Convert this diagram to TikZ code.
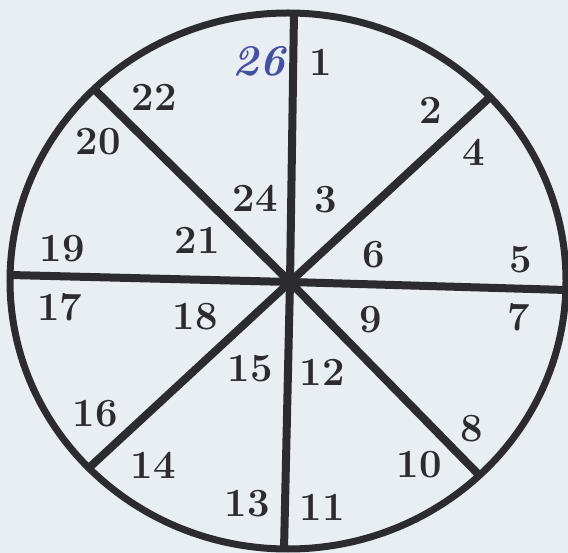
\documentclass[tikz,border=0pt]{standalone}
\usepackage{fontspec}
\usetikzlibrary{calc}
\definecolor{paper}{RGB}{232,238,242}
\definecolor{ink}{RGB}{44,44,48}
\definecolor{pen}{RGB}{68,80,160}
\tikzset{
  spoke/.style={draw=ink,line width=8pt},
  rim/.style={draw=ink,line width=7pt},
  num/.style={text=ink,font=\fontsize{40}{40}\selectfont\bfseries,inner sep=0pt},
  hand/.style={text=pen,font=\fontsize{44}{44}\selectfont\bfseries\itshape,inner sep=0pt}
}
\begin{document}
\begin{tikzpicture}[x=1pt,y=-1pt]
\fill[paper] (0,0) rectangle (568,553);
\useasboundingbox (0,0) rectangle (568,553);
\coordinate (c) at (290,282);
\coordinate (top) at (294,12);
\coordinate (bot) at (284,550);
\coordinate (lft) at (10,275);
\coordinate (rgt) at (566,290);
\coordinate (ne) at (489,98);
\coordinate (nw) at (95,90);
\coordinate (sw) at (91,466);
\coordinate (se) at (481,477);
\begin{scope}
\clip (288,281) ellipse [x radius=278pt, y radius=268pt];
\foreach \p in {top,bot,lft,rgt,ne,nw,sw,se} \draw[spoke] (c) -- ($(c)!1.08!(\p)$);
\end{scope}
\draw[rim] (288,281) ellipse [x radius=278pt, y radius=268pt];
\fill[ink] (c) circle (9pt);
\node[num] (n1) at (321,62) {1};
\node[num] (n2) at (431,110) {2};
\node[num] (n3) at (326,200) {3};
\node[num] (n4) at (474,152) {4};
\node[num] (n5) at (521,260) {5};
\node[num] (n6) at (374,255) {6};
\node[num] (n7) at (519,317) {7};
\node[num] (n8) at (472,429) {8};
\node[num] (n9) at (371,320) {9};
\node[num] (n10) at (419,465) {10};
\node[num] (n11) at (322,507) {11};
\node[num] (n12) at (322,372) {12};
\node[num] (n13) at (247,504) {13};
\node[num] (n14) at (153,465) {14};
\node[num] (n15) at (250,369) {15};
\node[num] (n16) at (95,414) {16};
\node[num] (n17) at (60,307) {17};
\node[num] (n18) at (195,317) {18};
\node[num] (n19) at (62,249) {19};
\node[num] (n20) at (98,142) {20};
\node[num] (n21) at (197,240) {21};
\node[num] (n22) at (154,97) {22};
\node[num] (n24) at (255,198) {24};
\node[hand] (n26) at (259,61) {26};
\end{tikzpicture}
\end{document}
